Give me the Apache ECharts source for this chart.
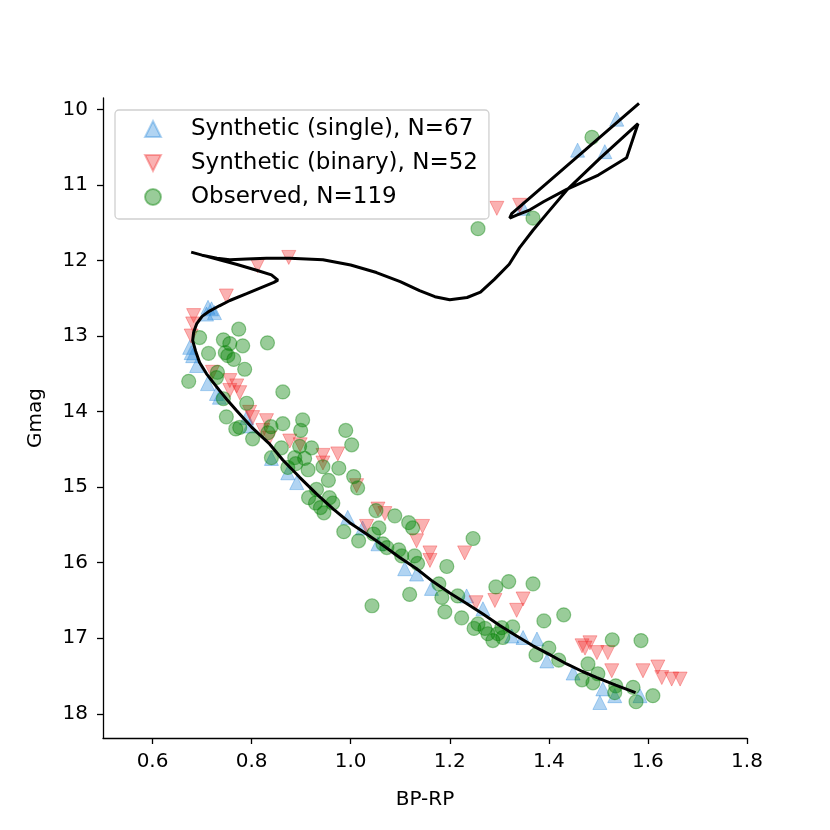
<!DOCTYPE html>
<html>
<head>
<meta charset="utf-8">
<script src="https://cdn.jsdelivr.net/npm/echarts@6.0.0/dist/echarts.min.js"></script>
<style>
  html, body { margin: 0; padding: 0; background: #fff; }
  #chart { width: 830px; height: 830px; }
</style>
</head>
<body>
<div id="chart"></div>
<script>
// tick positions
var xTicks = [0.6, 0.8, 1.0, 1.2, 1.4, 1.6, 1.8];
var yTicks = [10, 11, 12, 13, 14, 15, 16, 17, 18];

// synthetic single stars [BP-RP, Gmag]
var singlePoints = [
    [1.537, 10.13], [1.458, 10.54], [1.513, 10.56], [1.348, 11.31],
    [0.719, 12.64], [0.725, 12.69], [0.709, 12.71], [0.712, 12.62],
    [0.675, 13.15], [0.678, 13.22], [0.681, 13.26], [0.689, 13.39],
    [0.711, 13.63], [0.729, 13.76], [0.735, 13.81], [0.790, 14.08],
    [0.796, 14.19], [0.840, 14.62], [0.873, 14.81], [0.891, 14.94],
    [0.994, 15.40], [1.024, 15.54], [1.055, 15.75], [1.109, 16.08],
    [1.133, 16.15], [1.163, 16.34], [1.234, 16.44], [1.267, 16.61],
    [1.325, 16.97], [1.348, 16.99], [1.376, 17.01], [1.396, 17.30],
    [1.449, 17.46], [1.503, 17.85], [1.509, 17.67], [1.533, 17.76],
    [1.584, 17.76]
];

// synthetic binaries
var binaryPoints = [
    [1.295, 11.31], [1.341, 11.27], [0.875, 11.96], [0.812, 12.07],
    [0.749, 12.47], [0.683, 12.73], [0.681, 12.84], [0.678, 13.00],
    [0.721, 13.48], [0.756, 13.59], [0.770, 13.66], [0.756, 13.72],
    [0.776, 13.75], [0.796, 14.01], [0.802, 14.08], [0.830, 14.12],
    [0.836, 14.35], [0.823, 14.25], [0.877, 14.39], [0.898, 14.44],
    [0.944, 14.58], [0.974, 14.56], [0.944, 14.68], [1.012, 14.98],
    [1.055, 15.29], [1.069, 15.35], [1.032, 15.52], [1.145, 15.52],
    [1.133, 15.71], [1.160, 15.87], [1.160, 15.97], [1.230, 15.87],
    [1.253, 16.53], [1.291, 16.50], [1.348, 16.48], [1.335, 16.63],
    [1.467, 17.10], [1.483, 17.06], [1.473, 17.13], [1.497, 17.19],
    [1.519, 17.19], [1.527, 17.43], [1.590, 17.43], [1.620, 17.38],
    [1.628, 17.52], [1.648, 17.54], [1.665, 17.54]
];

// observed members
var observedPoints = [
    [1.487, 10.37], [1.368, 11.44], [1.257, 11.58], [0.695, 13.02],
    [0.774, 12.91], [0.743, 13.05], [0.756, 13.10], [0.782, 13.13],
    [0.832, 13.09], [0.713, 13.23], [0.747, 13.22], [0.752, 13.26],
    [0.764, 13.31], [0.786, 13.44], [0.673, 13.60], [0.731, 13.48],
    [0.729, 13.55], [0.863, 13.74], [0.743, 13.83], [0.790, 13.89],
    [0.749, 14.07], [0.768, 14.23], [0.776, 14.21], [0.802, 14.36],
    [0.863, 14.16], [0.903, 14.11], [0.899, 14.25], [0.839, 14.20],
    [0.833, 14.28], [0.921, 14.48], [0.907, 14.62], [0.860, 14.48],
    [0.840, 14.61], [0.990, 14.25], [0.887, 14.61], [0.944, 14.73],
    [0.976, 14.75], [0.889, 14.69], [0.873, 14.74], [1.002, 14.44],
    [0.897, 14.46], [0.914, 14.77], [0.955, 14.91], [1.006, 14.86],
    [1.014, 15.01], [0.931, 15.03], [0.915, 15.14], [0.929, 15.21],
    [0.957, 15.14], [0.964, 15.21], [0.946, 15.34], [0.939, 15.27],
    [1.051, 15.31], [1.089, 15.38], [1.117, 15.47], [1.125, 15.54],
    [1.057, 15.54], [0.986, 15.59], [1.016, 15.71], [1.046, 15.62],
    [1.065, 15.75], [1.073, 15.80], [1.097, 15.83], [1.103, 15.91],
    [1.129, 15.91], [1.135, 16.01], [1.194, 16.05], [1.247, 15.68],
    [1.119, 16.42], [1.178, 16.28], [1.216, 16.44], [1.184, 16.46],
    [1.190, 16.65], [1.224, 16.73], [1.293, 16.32], [1.319, 16.25],
    [1.368, 16.28], [1.390, 16.77], [1.430, 16.69], [1.249, 16.87],
    [1.257, 16.81], [1.271, 16.87], [1.277, 16.94], [1.287, 17.03],
    [1.297, 16.94], [1.307, 16.99], [1.327, 16.85], [1.305, 16.86],
    [1.374, 17.22], [1.400, 17.13], [1.420, 17.29], [1.467, 17.55],
    [1.479, 17.34], [1.489, 17.59], [1.528, 17.02], [1.586, 17.03],
    [1.499, 17.47], [1.535, 17.63], [1.570, 17.65], [1.576, 17.84],
    [1.610, 17.76], [1.533, 17.72], [1.043, 16.57]
];

// isochrone, in drawing order
var isochronePoints = [
    [1.575, 17.72], [1.535, 17.62], [1.497, 17.52], [1.468, 17.44],
    [1.436, 17.34], [1.400, 17.21], [1.368, 17.10], [1.335, 16.97],
    [1.301, 16.83], [1.267, 16.68], [1.234, 16.54], [1.200, 16.40],
    [1.166, 16.25], [1.133, 16.08], [1.099, 15.93], [1.065, 15.77],
    [1.032, 15.62], [0.998, 15.47], [0.965, 15.29], [0.931, 15.09],
    [0.897, 14.87], [0.863, 14.64], [0.835, 14.42], [0.802, 14.22],
    [0.770, 13.99], [0.750, 13.84], [0.735, 13.72], [0.709, 13.50],
    [0.695, 13.35], [0.687, 13.20], [0.681, 13.06], [0.683, 12.95],
    [0.689, 12.84], [0.700, 12.74], [0.715, 12.67], [0.735, 12.60],
    [0.756, 12.53], [0.790, 12.44], [0.823, 12.35], [0.845, 12.29],
    [0.853, 12.26], [0.840, 12.19], [0.810, 12.13], [0.769, 12.05],
    [0.735, 11.99], [0.700, 11.93], [0.678, 11.89],
    [0.700, 11.93], [0.730, 11.97], [0.756, 11.99], [0.790, 11.98],
    [0.830, 11.97], [0.877, 11.97], [0.944, 11.99], [1.000, 12.06],
    [1.052, 12.16], [1.100, 12.28], [1.139, 12.40], [1.170, 12.48],
    [1.200, 12.52], [1.235, 12.49], [1.262, 12.42], [1.290, 12.25],
    [1.320, 12.05], [1.341, 11.83], [1.368, 11.60], [1.396, 11.38],
    [1.436, 11.07], [1.503, 10.65], [1.580, 10.19],
    [1.557, 10.64], [1.500, 10.87], [1.436, 11.06], [1.390, 11.22],
    [1.362, 11.33], [1.335, 11.40], [1.321, 11.44], [1.325, 11.38],
    [1.582, 9.92]
];

var font = 'DejaVu Sans';
var singleName = 'Synthetic (single), N=67';
var binaryName = 'Synthetic (binary), N=52';
var observedName = 'Observed, N=119';

var chart = echarts.init(document.getElementById('chart'), null, { renderer: 'canvas' });

var option = {
    backgroundColor: '#ffffff',
    animation: false,
    textStyle: { fontFamily: font, color: '#000' },
    grid: { left: 103, right: 83, top: 98, bottom: 92, containLabel: false },
    legend: {
        orient: 'vertical',
        left: 115,
        top: 110,
        padding: [6, 11, 9, 29],
        itemWidth: 16,
        itemHeight: 16,
        itemGap: 8,
        backgroundColor: 'rgba(255,255,255,0.8)',
        borderColor: '#d0d0d0',
        borderWidth: 1.3,
        borderRadius: 4,
        selectedMode: false,
        textStyle: { fontFamily: font, fontSize: 23, color: '#000', padding: [0, 0, 0, 25], lineHeight: 26 },
        data: [
            { name: singleName, icon: 'triangle' },
            // down-pointing triangle for the binaries
            { name: binaryName, icon: 'path://M0,0L2,0L1,2Z' },
            { name: observedName, icon: 'circle' }
        ]
    },
    xAxis: {
        type: 'value',
        min: 0.5,
        max: 1.8,
        name: 'BP-RP',
        nameLocation: 'middle',
        nameGap: 52,
        nameTextStyle: { fontFamily: font, fontSize: 20, color: '#000' },
        axisLine: { show: true, onZero: false, lineStyle: { color: '#000', width: 1.3 } },
        axisTick: { show: true, length: 6, customValues: xTicks, lineStyle: { color: '#000', width: 1.3 } },
        axisLabel: {
            customValues: xTicks, margin: 14, fontSize: 20, color: '#000', fontFamily: font,
            formatter: function (v) { return v.toFixed(1); }
        },
        splitLine: { show: false }
    },
    yAxis: {
        type: 'value',
        inverse: true,
        min: 9.85,
        max: 18.32,
        name: 'Gmag',
        nameLocation: 'middle',
        nameGap: 57,
        nameRotate: 90,
        nameTextStyle: { fontFamily: font, fontSize: 20, color: '#000' },
        axisLine: { show: true, onZero: false, lineStyle: { color: '#000', width: 1.3 } },
        axisTick: { show: true, length: 6, customValues: yTicks, lineStyle: { color: '#000', width: 1.3 } },
        axisLabel: {
            customValues: yTicks, margin: 15, fontSize: 20, color: '#000', fontFamily: font,
            formatter: function (v) { return String(Math.round(v)); }
        },
        splitLine: { show: false }
    },
    series: [
        {
            name: singleName,
            type: 'scatter',
            symbol: 'triangle',
            symbolSize: 14,
            itemStyle: { color: 'rgba(40,135,220,0.45)', borderColor: 'rgba(40,135,220,0.45)', borderWidth: 1 },
            emphasis: { disabled: true },
            data: singlePoints,
            z: 2
        },
        {
            name: binaryName,
            type: 'scatter',
            symbol: 'triangle',
            symbolRotate: 180,
            symbolSize: 14,
            itemStyle: { color: 'rgba(240,40,40,0.45)', borderColor: 'rgba(240,40,40,0.45)', borderWidth: 1 },
            emphasis: { disabled: true },
            data: binaryPoints,
            z: 3
        },
        {
            name: observedName,
            type: 'scatter',
            symbol: 'circle',
            symbolSize: 14,
            itemStyle: { color: 'rgba(0,128,0,0.5)', borderColor: 'rgba(0,128,0,0.5)', borderWidth: 1.2 },
            emphasis: { disabled: true },
            data: observedPoints,
            z: 4
        },
        {
            name: 'isochrone',
            type: 'line',
            data: isochronePoints,
            showSymbol: false,
            symbol: 'none',
            smooth: false,
            lineStyle: { color: '#000', width: 3 },
            emphasis: { disabled: true },
            z: 5
        }
    ]
};

chart.setOption(option);
</script>
</body>
</html>
